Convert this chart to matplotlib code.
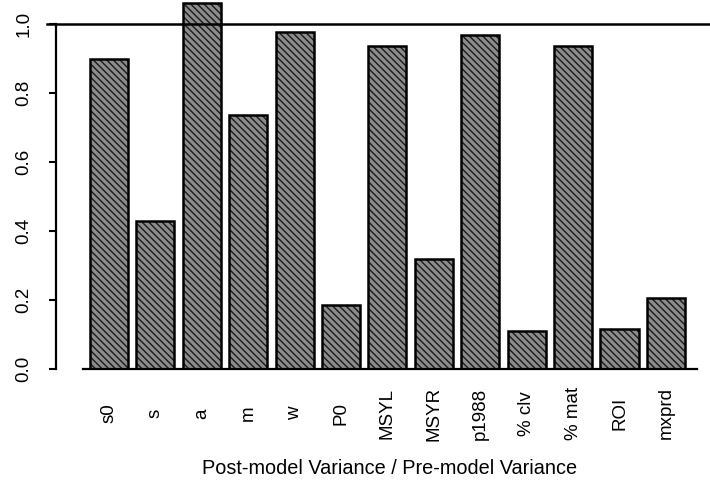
import matplotlib
matplotlib.use("Agg")
import matplotlib.pyplot as plt
import numpy as np

categories = ["s0", "s", "a", "m", "w", "P0", "MSYL", "MSYR", "p1988",
              "% clv", "% mat", "ROI", "mxprd"]
values = [0.90, 0.43, 1.06, 0.735, 0.978, 0.185, 0.935, 0.32, 0.967,
          0.11, 0.935, 0.115, 0.205]
yticks = [0.0, 0.2, 0.4, 0.6, 0.8, 1.0]
ytick_labels = ["0.0", "0.2", "0.4", "0.6", "0.8", "1.0"]
xlabel = "Post-model Variance / Pre-model Variance"

plt.rcParams['font.family'] = ['Liberation Sans', 'DejaVu Sans']

W, H = 710, 482
fig = plt.figure(figsize=(W / 100, H / 100), dpi=100)
ax = fig.add_axes([56 / W, (H - 369) / H, 654 / W, 369 / H])

x = np.arange(len(categories))
# hatched fill
ax.bar(x, values, width=0.82, color="#8c8c8c", edgecolor="#1a1a1a",
       linewidth=0, hatch="\\\\\\\\\\")
# outline
ax.bar(x, values, width=0.82, fill=False, edgecolor="black", linewidth=1.8)

ax.set_xlim(-1.142, 12.95)
ax.set_ylim(0, 1.0696)

for s in ["top", "right"]:
    ax.spines[s].set_visible(False)
ax.spines["left"].set_bounds(0, 1.0)
ax.spines["left"].set_linewidth(1.6)
ax.spines["bottom"].set_bounds(-0.56, 12.67)
ax.spines["bottom"].set_linewidth(1.6)

ax.axhline(1.0, xmin=-9 / 654, xmax=1.0, color="black", lw=1.8, clip_on=False)

ax.set_yticks(yticks)
ax.set_yticklabels(ytick_labels, rotation=90, va="center", fontsize=13.5)
ax.tick_params(axis="y", length=5, width=1.5, pad=12)

ax.set_xticks(x)
ax.set_xticklabels(categories, rotation=90, va="center", fontsize=13.5)
ax.tick_params(axis="x", length=0, pad=32)

fig.text(390 / W, 1 - 468 / H, xlabel, ha="center", va="center", fontsize=14.3)

fig.savefig("out.png", dpi=100, facecolor="white")
